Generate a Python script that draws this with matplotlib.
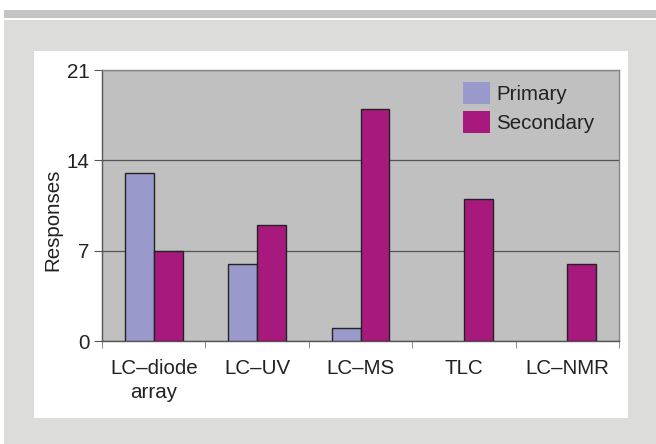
import numpy as np
from matplotlib import pyplot as plt
from matplotlib.patches import Rectangle

plt.rcParams['font.family'] = ['Liberation Sans', 'DejaVu Sans']

categories = ["LC\u2013diode\narray", "LC\u2013UV", "LC\u2013MS", "TLC", "LC\u2013NMR"]
primary = [13, 6, 1, 0, 0]
secondary = [7, 9, 18, 11, 6]
y_ticks = [0, 7, 14, 21]

W, H = 656, 444
fig = plt.figure(figsize=(W / 100, H / 100), dpi=100)
fig.patch.set_facecolor('white')


def px_rect(x0, y0, x1, y1, color):
    # rectangle in pixel coords (top-left origin)
    fig.patches.append(Rectangle((x0 / W, 1 - y1 / H), (x1 - x0) / W, (y1 - y0) / H,
                                 transform=fig.transFigure, facecolor=color,
                                 edgecolor='none', zorder=-10))


px_rect(4, 10, 656, 18, '#c4c4c2')
px_rect(4, 20, 656, 444, '#dcdcda')
px_rect(34, 51, 628, 418, 'white')

ax = fig.add_axes([102 / W, 1 - 341 / H, (619 - 102) / W, (341 - 70) / H])
ax.set_facecolor('#c0c0c0')

x = np.arange(len(categories))
w = 0.28
fs = 14.8
b1 = ax.bar(x - w / 2, primary, w, color='#9999cc', edgecolor='#222222', linewidth=1.0,
            label='Primary', zorder=3)
b2 = ax.bar(x + w / 2, secondary, w, color='#a8197d', edgecolor='#222222', linewidth=1.0,
            label='Secondary', zorder=3)
# empty bars leave no outline
for bars, vals in [(b1, primary), (b2, secondary)]:
    for b, v in zip(bars, vals):
        if v == 0:
            b.set_linewidth(0)

ax.set_xlim(-0.5, len(categories) - 0.5)
ax.set_ylim(0, 21)
ax.set_yticks(y_ticks)
ax.yaxis.grid(True, color='#555555', linewidth=0.9, zorder=1)
ax.set_axisbelow(True)

ax.set_xticks(x)
ax.set_xticklabels(categories, fontsize=fs, color='#222222', linespacing=1.3)
ax.tick_params(axis='x', length=0, pad=13)
ax.set_xticks(np.arange(-0.5, len(categories)), minor=True)
ax.tick_params(axis='x', which='minor', length=5, color='#777777', direction='out')
ax.tick_params(axis='y', length=6, color='#555555', labelsize=fs, labelcolor='#222222', pad=3)

for s in ['left', 'bottom']:
    ax.spines[s].set_color('#555555')
    ax.spines[s].set_linewidth(1.0)
for s in ['top', 'right']:
    ax.spines[s].set_color('#888888')
    ax.spines[s].set_linewidth(1.0)

ax.set_ylabel('Responses', fontsize=fs, color='#222222')
ax.yaxis.set_label_coords(-0.076, 0.446)

leg = ax.legend(loc='upper left', frameon=False, fontsize=fs, handlelength=1.3,
                handleheight=1.3, handletextpad=0.3, labelspacing=0.3,
                borderpad=0, borderaxespad=0,
                bbox_to_anchor=((463 - 102) / (619 - 102), (341 - 82) / (341 - 70)))
for t in leg.get_texts():
    t.set_color('#222222')
for h in leg.legend_handles:
    h.set_linewidth(0)

fig.savefig('out.png', dpi=100)
